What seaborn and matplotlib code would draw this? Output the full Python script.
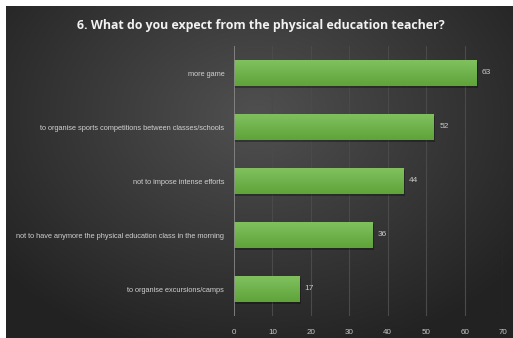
import numpy as np
import pandas as pd
import matplotlib
matplotlib.use("Agg")
import matplotlib.pyplot as plt
import seaborn as sns
from matplotlib.colors import LinearSegmentedColormap

categories = ["more game",
              "to organise sports competitions between classes/schools",
              "not to impose intense efforts",
              "not to have anymore the physical education class in the morning",
              "to organise excursions/camps"]
values = [63, 52, 44, 36, 17]
xticks = [0, 10, 20, 30, 40, 50, 60, 70]
title = "6. What do you expect from the physical education teacher?"

df = pd.DataFrame({"cat": categories, "val": values})

sns.set_theme(style="dark")
plt.rcParams['font.family'] = ['Liberation Sans', 'DejaVu Sans']

W, H = 513, 338
fig = plt.figure(figsize=(W/100, H/100), dpi=100, facecolor="white")

# background with radial gradient
bg = fig.add_axes([6/W, 0, (W-6)/W, (H-6)/H])
bg.set_axis_off()
ny, nx = 332, 507
yy, xx = np.mgrid[0:ny, 0:nx]
cx, cy = 250, 110
d = np.sqrt(((xx-cx)/330.0)**2 + ((yy-cy)/250.0)**2)
d = np.clip(d, 0, 1)
c_in = np.array([0x50, 0x50, 0x50])/255
c_out = np.array([0x22, 0x22, 0x22])/255
img = c_in[None, None, :]*(1-d[..., None]) + c_out[None, None, :]*d[..., None]
bg.imshow(img, aspect="auto", extent=[0, 1, 0, 1], origin="upper")
bg.set_xlim(0, 1); bg.set_ylim(0, 1)

ax = fig.add_axes([234/W, 1-316/H, (503-234)/W, (316-46)/H])
ax.set_facecolor("none")
sns.barplot(data=df, x="val", y="cat", orient="h", color="#6aaf45", width=0.48,
            ax=ax, saturation=1, edgecolor="none")

grad = np.linspace(0, 1, 64)[:, None]
cmap = LinearSegmentedColormap.from_list("g", ["#80c15e", "#5fa33a"])
for p in list(ax.patches):
    x0, y0 = p.get_x(), p.get_y()
    w, h = p.get_width(), p.get_height()
    sh = plt.Rectangle((x0, y0+0.03), w+0.4, h, color="black", alpha=0.3, zorder=1, lw=0)
    ax.add_patch(sh)
    p.set_zorder(2)
    im = ax.imshow(grad, cmap=cmap, extent=[x0, x0+w, y0+h, y0], aspect="auto", zorder=3)
    im.set_clip_path(p)

ax.set_xlim(0, 70)
ax.set_ylim(4.5, -0.5)
ax.set_xticks(xticks)
ax.set_xticklabels([str(t) for t in xticks], color="#c8c8c8", fontsize=5.8)
ax.set_yticklabels(categories, color="#d0d0d0", fontsize=5.3)
ax.tick_params(axis="both", length=0)
ax.tick_params(axis="y", pad=7)
ax.tick_params(axis="x", pad=9)
ax.set_xlabel(""); ax.set_ylabel("")
ax.grid(False)
for t in xticks[1:]:
    ax.axvline(t, color="#4a4a4a", lw=0.8, zorder=0)
ax.axvline(0, color="#8a8a8a", lw=1.2, zorder=4)
for s in ax.spines.values():
    s.set_visible(False)

for i, v in enumerate(values):
    ax.text(v + 1.4, i, str(v), va="center", ha="left", color="#c8c8c8", fontsize=6)

fig.text(261/W, 1-25/H, title, ha="center", va="center", color="#f2f2f2",
         fontsize=8.9, fontweight="bold", family=["Open Sans", "DejaVu Sans"])

fig.savefig("out.png", dpi=100, facecolor="white")
